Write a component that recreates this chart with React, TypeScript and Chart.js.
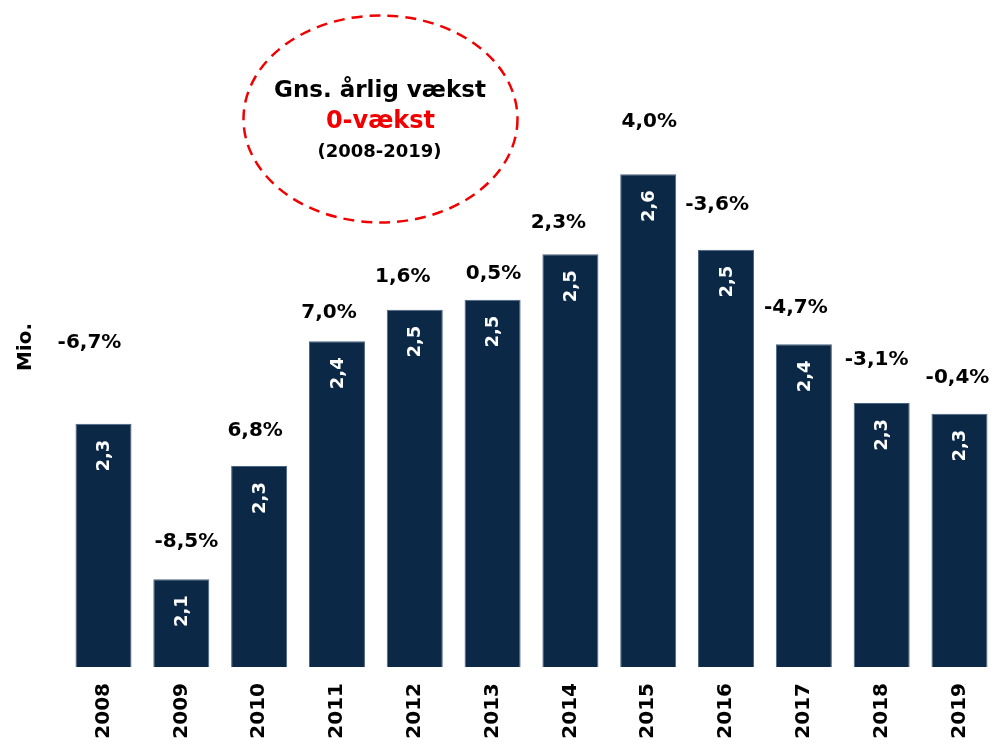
import React, { useEffect, useRef } from 'react';
import { Chart, registerables } from 'chart.js';

Chart.register(...registerables);

// ---- data ----
const years = ['2008', '2009', '2010', '2011', '2012', '2013', '2014', '2015', '2016', '2017', '2018', '2019'];
const visitorsMio = [2.316, 2.114, 2.261, 2.423, 2.464, 2.477, 2.536, 2.64, 2.542, 2.419, 2.343, 2.329];
const growthPct = [-6.7, -8.5, 6.8, 7.0, 1.6, 0.5, 2.3, 4.0, -3.6, -4.7, -3.1, -0.4];
const yAxisMin = 2.0;
const yAxisMax = 2.8;
const yAxisTitle = 'Mio.';
const noteLines = ['Gns. årlig vækst', '0-vækst', '(2008-2019)'];

// ---- label placement (pixels relative to each bar's top/centre) ----
const growthLift = [81, 37, 35, 28, 33, 26, 31, 52, 45, 37, 43, 36];
const growthShift = [-14, 5, -4, -8, -12, 1, -12, 1, -9, -8, -5, -2];

const FONT = '"DejaVu Sans", "Open Sans", sans-serif';
const BAR_COLOR = '#0b2846';

const fmtValue = (v: number) => v.toFixed(1).replace('.', ',');
const fmtPct = (v: number) => v.toFixed(1).replace('.', ',') + '%';

const labelsPlugin = {
  id: 'customLabels',
  afterDatasetsDraw(chart: any) {
    const ctx = chart.ctx as CanvasRenderingContext2D;
    const meta = chart.getDatasetMeta(0);
    meta.data.forEach((bar: any, i: number) => {
      const { x, y } = bar.getProps(['x', 'y'], true);
      // value inside bar, rotated
      ctx.save();
      ctx.translate(x, y + 16);
      ctx.rotate(-Math.PI / 2);
      ctx.fillStyle = '#ffffff';
      ctx.font = `bold 18px ${FONT}`;
      ctx.textAlign = 'right';
      ctx.textBaseline = 'middle';
      ctx.fillText(fmtValue(visitorsMio[i]), 0, 1);
      ctx.restore();
      // growth label above bar
      ctx.save();
      ctx.fillStyle = '#000000';
      ctx.font = `bold 20px ${FONT}`;
      ctx.textAlign = 'center';
      ctx.textBaseline = 'middle';
      ctx.fillText(fmtPct(growthPct[i]), x + growthShift[i], y - growthLift[i]);
      ctx.restore();
    });
  },
  afterDraw(chart: any) {
    const ctx = chart.ctx as CanvasRenderingContext2D;
    // y-axis title
    ctx.save();
    ctx.translate(26, 347);
    ctx.rotate(-Math.PI / 2);
    ctx.fillStyle = '#000000';
    ctx.font = `bold 20px ${FONT}`;
    ctx.textAlign = 'center';
    ctx.textBaseline = 'middle';
    ctx.fillText(yAxisTitle, 0, 0);
    ctx.restore();

    // dashed ellipse note
    ctx.save();
    ctx.beginPath();
    ctx.ellipse(380.5, 119, 137, 103.5, 0, 0, Math.PI * 2);
    ctx.setLineDash([11, 7]);
    ctx.lineWidth = 2.5;
    ctx.strokeStyle = '#f00000';
    ctx.stroke();
    ctx.setLineDash([]);
    ctx.textAlign = 'center';
    ctx.textBaseline = 'middle';
    ctx.fillStyle = '#000000';
    ctx.font = `bold 23px ${FONT}`;
    ctx.fillText(noteLines[0], 380, 91);
    ctx.fillStyle = '#f00000';
    ctx.font = `bold 24px ${FONT}`;
    ctx.fillText(noteLines[1], 380.5, 122);
    ctx.fillStyle = '#000000';
    ctx.font = `bold 18px ${FONT}`;
    ctx.fillText(noteLines[2], 379.5, 152);
    ctx.restore();
  },
};

export default function App() {
  const canvasRef = useRef<HTMLCanvasElement | null>(null);

  useEffect(() => {
    if (!canvasRef.current) return;
    const chart = new Chart(canvasRef.current, {
      type: 'bar',
      data: {
        labels: years,
        datasets: [
          {
            data: visitorsMio,
            backgroundColor: BAR_COLOR,
            borderColor: '#4a6282',
            borderWidth: 1,
            barPercentage: 0.72,
            categoryPercentage: 1,
          },
        ],
      },
      options: {
        animation: false,
        responsive: false,
        maintainAspectRatio: false,
        devicePixelRatio: 1,
        layout: { padding: { left: 64.6, right: 1.6, top: 51, bottom: 0 } },
        plugins: {
          legend: { display: false },
          tooltip: { enabled: false },
          title: { display: false },
        },
        scales: {
          x: {
            offset: true,
            grid: { display: false, drawTicks: false },
            border: { display: false },
            ticks: {
              autoSkip: false,
              minRotation: 90,
              maxRotation: 90,
              padding: 16,
              color: '#000000',
              font: { family: FONT, size: 20, weight: 'bold' },
            },
            afterFit: (scale: any) => {
              scale.height = 79;
            },
          },
          y: {
            display: false,
            min: yAxisMin,
            max: yAxisMax,
          },
        },
      },
      plugins: [labelsPlugin],
    } as any);
    return () => chart.destroy();
  }, []);

  return (
    <div
      style={{
        position: 'fixed',
        left: 0,
        top: 0,
        width: 994,
        height: 746,
        overflow: 'hidden',
        background: '#ffffff',
      }}
    >
      <canvas ref={canvasRef} width={1000} height={746} style={{ display: 'block' }} />
    </div>
  );
}
